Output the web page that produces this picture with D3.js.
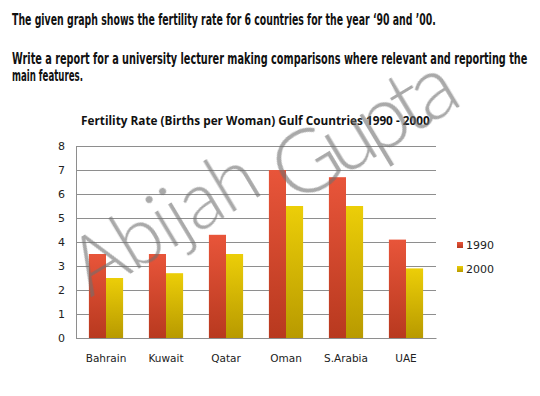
<!DOCTYPE html>
<html>
<head>
<meta charset="utf-8">
<script src="https://cdn.jsdelivr.net/npm/d3@7"></script>
<style>
  body { margin: 0; background: #fff; }
  svg { display: block; }
</style>
</head>
<body>
<svg id="chart" width="540" height="396"></svg>
<script>
// data
var countries = ["Bahrain", "Kuwait", "Qatar", "Oman", "S.Arabia", "UAE"];
var years = ["1990", "2000"];
var rate1990 = [3.5, 3.5, 4.3, 7.0, 6.7, 4.1];
var rate2000 = [2.5, 2.7, 3.5, 5.5, 5.5, 2.9];
var yTicks = [0, 1, 2, 3, 4, 5, 6, 7, 8];

var svg = d3.select("svg#chart");

// gradients for the bars (darker at the bottom)
var defs = svg.append("defs");
var grads = [["g1990", "#e8553a", "#b8391f"], ["g2000", "#ecce08", "#b89a00"]];
grads.forEach(function (g) {
  var lg = defs.append("linearGradient")
    .attr("id", g[0]).attr("x1", 0).attr("y1", 0).attr("x2", 0).attr("y2", 1);
  lg.append("stop").attr("offset", "0%").attr("stop-color", g[1]);
  lg.append("stop").attr("offset", "100%").attr("stop-color", g[2]);
});

// squeeze a text horizontally so it spans the given width
function fitText(sel, x0, y0, w) {
  var natural = sel.node().getComputedTextLength();
  sel.attr("transform", "translate(" + x0 + "," + y0 + ") scale(" + (w / natural) + ",1)");
}

// header text
var head = svg.append("g")
  .style("font-family", "'Liberation Sans Narrow', 'DejaVu Sans Condensed', sans-serif")
  .style("font-weight", "bold")
  .style("font-size", "15px")
  .attr("fill", "#111");
var headLines = [
  ["The given graph shows the fertility rate for 6 countries for the year \u201890 and \u201900.", 25, 424],
  ["Write a report for a university lecturer making comparisons where relevant and reporting the", 64, 516],
  ["main features.", 81, 71]
];
headLines.forEach(function (l) {
  fitText(head.append("text").text(l[0]), 12, l[1], l[2]);
});

// chart title
var title = svg.append("text")
  .style("font-family", "'Open Sans', 'Liberation Sans', sans-serif")
  .style("font-weight", "bold")
  .style("font-size", "12.5px")
  .attr("fill", "#111")
  .text("Fertility Rate (Births per Woman) Gulf Countries 1990  - 2000");
fitText(title, 81, 125, 349);

var plotL = 76, plotR = 436, plotT = 146, plotB = 338;

var x = d3.scaleBand().domain(countries).range([plotL, plotR]).paddingInner(0.43).paddingOuter(0.215);
var x1 = d3.scaleBand().domain(years).range([0, x.bandwidth()]);
var y = d3.scaleLinear().domain([0, 8]).range([plotB, plotT]);

// gridlines
svg.append("g")
  .attr("transform", "translate(" + plotL + ",0)")
  .call(d3.axisLeft(y).tickValues(yTicks).tickSize(-(plotR - plotL)).tickFormat(""))
  .call(function (g) {
    g.select(".domain").remove();
    g.selectAll("line").attr("stroke", "#8e8e8e").attr("stroke-width", 1);
  });

// y axis labels
svg.append("g")
  .attr("transform", "translate(" + plotL + ",0)")
  .call(d3.axisLeft(y).tickValues(yTicks).tickSize(0).tickPadding(11))
  .call(function (g) {
    g.select(".domain").attr("stroke", "#8e8e8e");
    g.selectAll("text")
      .style("font-family", "'DejaVu Sans', Verdana, sans-serif")
      .style("font-size", "11px")
      .attr("fill", "#222");
  });

// bars
var rows = countries.map(function (c, i) {
  return { country: c, values: [{ year: "1990", v: rate1990[i] }, { year: "2000", v: rate2000[i] }] };
});
svg.append("g").selectAll("g")
  .data(rows).join("g")
  .attr("transform", function (d) { return "translate(" + x(d.country) + ",0)"; })
  .selectAll("rect")
  .data(function (d) { return d.values; }).join("rect")
  .attr("x", function (d) { return x1(d.year); })
  .attr("width", x1.bandwidth())
  .attr("y", function (d) { return y(d.v); })
  .attr("height", function (d) { return y(0) - y(d.v); })
  .attr("fill", function (d) { return "url(#g" + d.year + ")"; });

// x axis
svg.append("g")
  .attr("transform", "translate(0," + plotB + ")")
  .call(d3.axisBottom(x).tickSize(0).tickPadding(17))
  .call(function (g) {
    g.select(".domain").attr("stroke", "#8e8e8e");
    g.selectAll("text")
      .style("font-family", "'DejaVu Sans', Verdana, sans-serif")
      .style("font-size", "10.5px")
      .attr("fill", "#222");
  });

// legend
var legend = svg.append("g").selectAll("g")
  .data(years).join("g")
  .attr("transform", function (d, i) { return "translate(457," + (242 + i * 24) + ")"; });
legend.append("rect").attr("width", 6).attr("height", 6)
  .attr("fill", function (d) { return "url(#g" + d + ")"; });
legend.append("text").attr("x", 9).attr("y", 7)
  .style("font-family", "'DejaVu Sans', Verdana, sans-serif")
  .style("font-size", "11px")
  .attr("fill", "#222")
  .text(function (d) { return d; });

// watermark
var wm = svg.append("g")
  .style("font-family", "Lato, 'Open Sans', sans-serif")
  .style("font-weight", "300")
  .attr("fill", "#707070").attr("opacity", 0.6);
wm.append("text")
  .attr("transform", "translate(90,298) rotate(-31)")
  .attr("textLength", 205).attr("lengthAdjust", "spacing")
  .style("font-size", "80px")
  .text("Abijah");
wm.append("text")
  .attr("transform", "translate(294,206) rotate(-31)")
  .attr("textLength", 200).attr("lengthAdjust", "spacing")
  .style("font-size", "88px")
  .text("Gupta");
</script>
</body>
</html>
